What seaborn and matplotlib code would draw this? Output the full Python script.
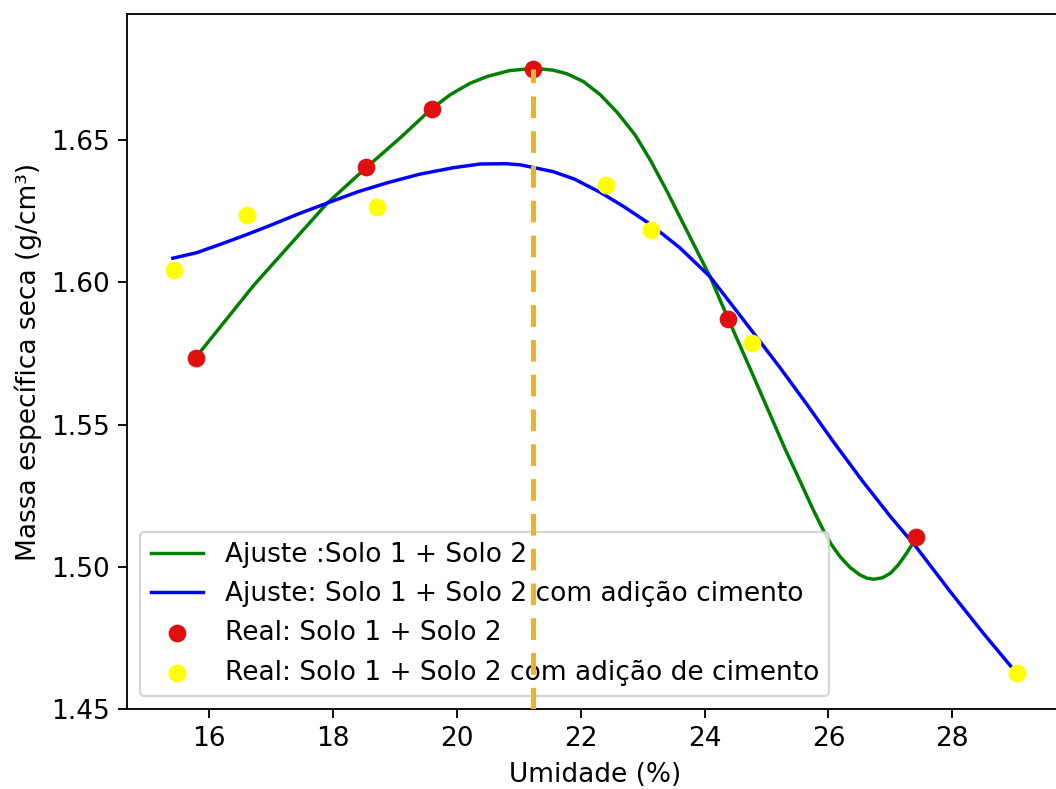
import matplotlib
matplotlib.use("Agg")
import matplotlib.pyplot as plt
import seaborn as sns

# Measured points
real_x = [15.79, 18.54, 19.60, 21.24, 24.38, 27.41]
real_y = [1.5734, 1.6405, 1.6609, 1.6751, 1.5873, 1.5104]

cim_x = [15.44, 16.62, 18.72, 22.41, 23.13, 24.76, 29.04]
cim_y = [1.6044, 1.6238, 1.6266, 1.6342, 1.6184, 1.5786, 1.4626]

# Fitted curves
fit1_x = [15.80, 16.73, 17.91, 18.54, 19.10, 19.59, 19.90, 20.22, 20.50, 20.85,
          21.24, 21.55, 21.78, 22.05, 22.32, 22.60, 22.88, 23.13, 23.39, 23.70,
          24.09, 24.38, 24.70, 25.01, 25.30, 25.55, 25.75, 25.92, 26.05, 26.19,
          26.35, 26.51, 26.62, 26.73, 26.87, 27.00, 27.13, 27.26, 27.41]
fit1_y = [1.5739, 1.5991, 1.6278, 1.6403, 1.6510, 1.6609, 1.6660, 1.6700, 1.6724, 1.6744,
          1.6752, 1.6746, 1.6733, 1.6705, 1.6659, 1.6595, 1.6518, 1.6428, 1.6322, 1.6188,
          1.6020, 1.5873, 1.5715, 1.5560, 1.5415, 1.5298, 1.5203, 1.5128, 1.5078, 1.5036,
          1.4998, 1.4972, 1.4961, 1.4957, 1.4962, 1.4978, 1.5008, 1.5048, 1.5100]

fit2_x = [15.42, 15.80, 16.19, 16.60, 16.99, 17.45, 17.94, 18.40, 18.88, 19.40,
          19.95, 20.38, 20.80, 21.03, 21.56, 21.90, 22.32, 22.70, 23.12, 23.60,
          24.09, 24.58, 25.22, 25.65, 26.08, 26.55, 26.99, 27.41, 27.96, 28.50, 29.04]
fit2_y = [1.6085, 1.6104, 1.6134, 1.6167, 1.6200, 1.6241, 1.6281, 1.6318, 1.6350, 1.6380,
          1.6403, 1.6416, 1.6417, 1.6413, 1.6389, 1.6363, 1.6316, 1.6266, 1.6205, 1.6122,
          1.6020, 1.5882, 1.5700, 1.5572, 1.5440, 1.5302, 1.5180, 1.5072, 1.4915, 1.4767, 1.4626]

opt_x = 21.23
opt_y = 1.6751

plt.rcParams["font.size"] = 11.5
plt.rcParams["xtick.major.size"] = 4
plt.rcParams["ytick.major.size"] = 4

fig = plt.figure(figsize=(1056 / 165, 789 / 165), dpi=165)
ax = fig.add_axes([127 / 1056, 1 - 709.3 / 789, (1064 - 127) / 1056, (709.3 - 14) / 789])
ax.spines["right"].set_visible(False)

sns.lineplot(x=fit1_x, y=fit1_y, sort=False, color="green", linewidth=1.5,
             label="Ajuste :Solo 1 + Solo 2", ax=ax)
sns.lineplot(x=fit2_x, y=fit2_y, sort=False, color="blue", linewidth=1.5,
             label="Ajuste: Solo 1 + Solo 2 com adição cimento", ax=ax)
sns.scatterplot(x=real_x, y=real_y, color="#e01010", s=60, linewidth=0, zorder=3,
                label="Real: Solo 1 + Solo 2", ax=ax)
sns.scatterplot(x=cim_x, y=cim_y, color="yellow", s=60, linewidth=0, zorder=3,
                label="Real: Solo 1 + Solo 2 com adição de cimento", ax=ax)

ax.vlines(opt_x, 1.45, opt_y, colors="#e8b040", linestyles=(0, (4.3, 2.6)),
          linewidth=2.2, zorder=6)

ax.set_xlim(14.68, 16 + (1064 - 208.3) / 62)
ax.set_ylim(1.45, 1.6943)
ax.set_xticks([16, 18, 20, 22, 24, 26, 28])
ax.set_yticks([1.45, 1.50, 1.55, 1.60, 1.65])
ax.set_yticklabels(["1.45", "1.50", "1.55", "1.60", "1.65"])
ax.set_xlabel("Umidade (%)")
ax.set_ylabel("Massa específica seca (g/cm³)")
ax.legend(loc="lower left")

fig.savefig("out.png", dpi=165)
